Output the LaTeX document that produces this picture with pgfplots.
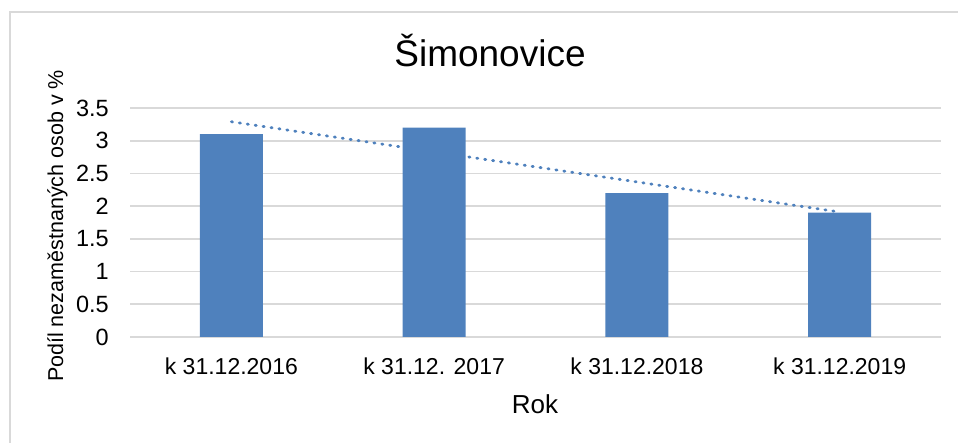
\documentclass[border=0pt]{standalone}
\usepackage{pgfplots}
\pgfplotsset{compat=1.18}
\usepackage{fontspec}
\setmainfont{Liberation Sans}
\definecolor{barblue}{HTML}{4F81BD}
\definecolor{gridgrey}{HTML}{D9D9D9}
\begin{document}
\begin{tikzpicture}[x=1pt,y=1pt]
\useasboundingbox (0,0) rectangle (958,443);
\draw[gridgrey, line width=1.5pt] (10,0) -- (10,431) -- (958,431);
\begin{axis}[
  at={(130pt,106pt)}, anchor=south west,
  scale only axis, width=811pt, height=229pt,
  xmin=-0.5, xmax=3.5, ymin=0, ymax=3.5,
  axis line style={draw=none},
  major tick length=0pt,
  xtick={0,1,2,3},
  xticklabels={k 31.12.2016, k 31.12. 2017, k 31.12.2018, k 31.12.2019},
  ytick={0,0.5,1,1.5,2,2.5,3,3.5},
  yticklabels={0,0.5,1,1.5,2,2.5,3,3.5},
  ymajorgrids, grid style={gridgrey, line width=1.6pt},
  yticklabel style={font=\fontsize{23.5}{27}\selectfont, inner sep=0pt, anchor=east, xshift=-21pt},
  xticklabel style={font=\fontsize{23}{27}\selectfont, inner sep=0pt, anchor=center, yshift=-29pt},
  clip=false,
]
\addplot[ybar, bar width=63pt, fill=barblue, draw=none] coordinates {(0,3.1) (1,3.2) (2,2.2) (3,1.9)};
\addplot[barblue, line width=2.8pt, line cap=round, dash pattern=on 1.2pt off 6.8pt] coordinates {(0,3.29) (3,1.91)};
\end{axis}
\node[anchor=base, font=\fontsize{37}{42}\selectfont] at (490,376) {Šimonovice};
\node[anchor=base, font=\fontsize{26}{30}\selectfont] at (535,29) {Rok};
\node[anchor=base, rotate=90, font=\fontsize{21.5}{25}\selectfont] at (63,217) {Podíl nezaměstnaných osob v \%};
\end{tikzpicture}
\end{document}
